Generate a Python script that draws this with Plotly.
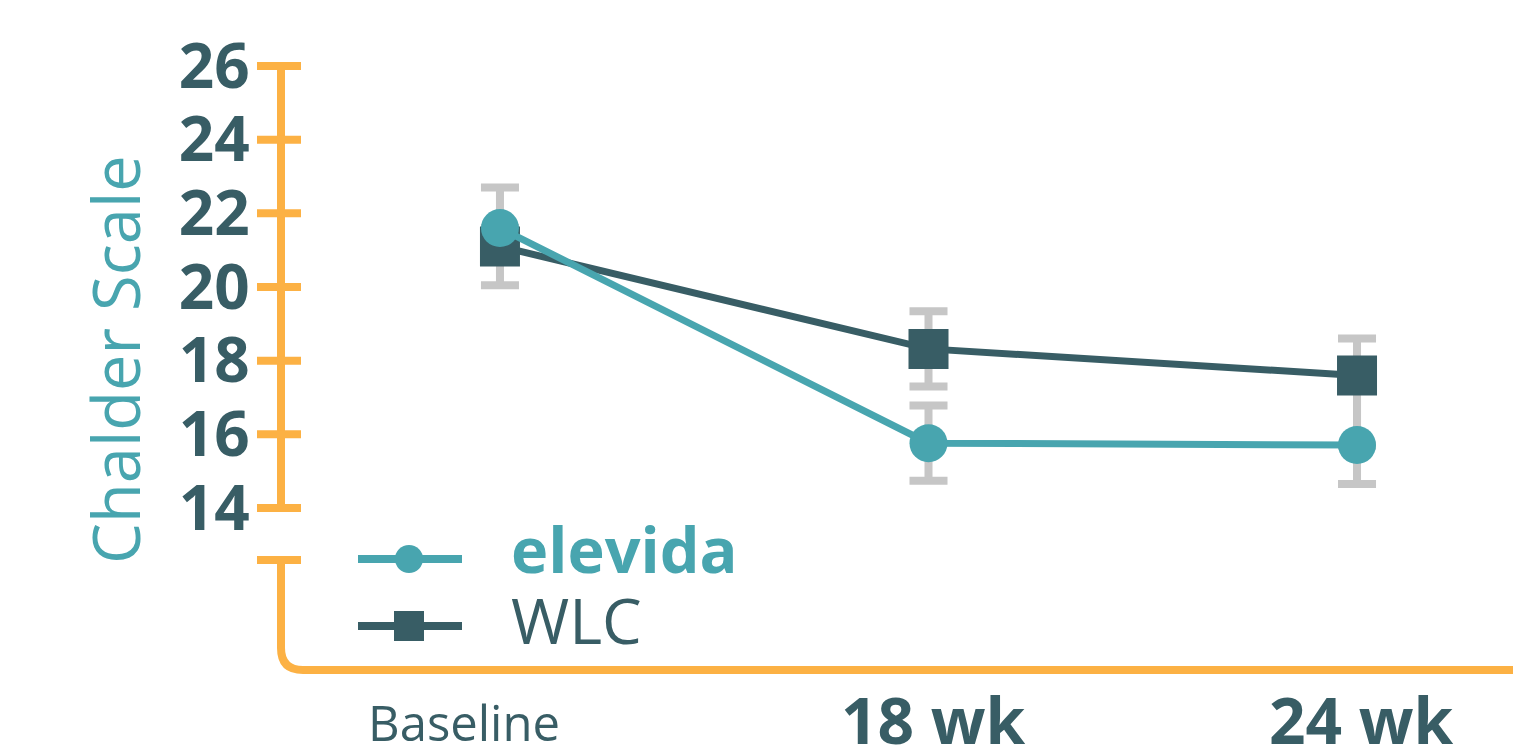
import plotly.graph_objects as go

# ---------------- data ----------------
categories = ["Baseline", "18 wk", "24 wk"]
x_idx = [0, 1, 2]
elevida_vals = [21.6, 15.76, 15.71]
elevida_err_plus = [1.1, 1.02, 1.9]
elevida_err_minus = [0.5, 1.02, 1.06]
wlc_vals = [21.1, 18.32, 17.6]
wlc_err_plus = [0.5, 1.02, 1.0]
wlc_err_minus = [1.05, 1.02, 1.9]
y_ticks = [14, 16, 18, 20, 22, 24, 26]
series_names = ["elevida", "WLC"]

# ---------------- style ----------------
TEAL = "#48a5af"
DARK = "#385d65"
ORANGE = "#fcb144"
GRAY = "#c6c6c6"
FONT = "Open Sans"

W, H = 1513, 754
ML, MB = 281, 84
PW, PH = W - ML, H - MB
Y_RANGE = [9.602, 27.792]
X_RANGE = [-0.511, 2.364]


def px_x(px):
    return (px - ML) / PW


def px_y(py):
    return (PH - py) / PH


fig = go.Figure()

# error bars first (behind everything)
for vals, ep, em in ((wlc_vals, wlc_err_plus, wlc_err_minus),
                     (elevida_vals, elevida_err_plus, elevida_err_minus)):
    fig.add_trace(go.Scatter(
        x=x_idx, y=vals, mode="markers",
        marker=dict(size=1, opacity=0),
        error_y=dict(type="data", symmetric=False, array=ep, arrayminus=em,
                     visible=True, color=GRAY, thickness=8, width=19),
        showlegend=False, hoverinfo="skip", cliponaxis=False))

fig.add_trace(go.Scatter(
    x=x_idx, y=wlc_vals, name=series_names[1], mode="lines+markers",
    line=dict(color=DARK, width=7),
    marker=dict(symbol="square", size=40, color=DARK, opacity=1),
    showlegend=False, cliponaxis=False))
fig.add_trace(go.Scatter(
    x=x_idx, y=elevida_vals, name=series_names[0], mode="lines+markers",
    line=dict(color=TEAL, width=7),
    marker=dict(symbol="circle", size=38, color=TEAL, opacity=1),
    showlegend=False, cliponaxis=False))

# ---------- manual legend (pixel coords on helper axes) ----------
leg_items = [(TEAL, "circle", 28, 559, 548, f"<b>{series_names[0]}</b>"),
             (DARK, "square", 30, 626, 619, series_names[1])]
for col, sym, sz, ly, ty, label in leg_items:
    fig.add_trace(go.Scatter(
        x=[358, 462], y=[ly, ly], mode="lines",
        line=dict(color=col, width=8),
        xaxis="x2", yaxis="y2", showlegend=False, hoverinfo="skip",
        cliponaxis=False))
    fig.add_trace(go.Scatter(
        x=[409], y=[ly], mode="markers",
        marker=dict(symbol=sym, size=sz, color=col, opacity=1),
        xaxis="x2", yaxis="y2", showlegend=False, hoverinfo="skip",
        cliponaxis=False))
    fig.add_annotation(x=509, y=ty, xref="x2", yref="y2", text=label,
                       showarrow=False, xanchor="left", yanchor="middle",
                       font=dict(family=FONT, size=63, color=col))

# ---------- axis decoration ----------
shapes = []
# upper y-axis line
shapes.append(dict(type="line", xref="paper", yref="y", x0=0, x1=0,
                   y0=y_ticks[0], y1=y_ticks[-1],
                   line=dict(color=ORANGE, width=8)))
# ticks (cross the axis line)
for t in y_ticks:
    shapes.append(dict(type="line", xref="paper", yref="y",
                       x0=px_x(257), x1=px_x(301), y0=t, y1=t,
                       line=dict(color=ORANGE, width=8)))
# break tick
shapes.append(dict(type="line", xref="paper", yref="paper",
                   x0=px_x(257), x1=px_x(301), y0=px_y(560), y1=px_y(560),
                   line=dict(color=ORANGE, width=8)))
# lower segment with rounded corner into the x-axis
r = 22
path = (f"M 0,{px_y(560)} L 0,{px_y(PH - r)} "
        f"Q 0,0 {px_x(ML + r)},0 L 1,0")
shapes.append(dict(type="path", xref="paper", yref="paper", path=path,
                   line=dict(color=ORANGE, width=8)))

# ---------- x labels ----------
x_label_style = [
    dict(text=categories[0], size=49, xshift=-36, yshift=-52),
    dict(text=f"<b>{categories[1]}</b>", size=64, xshift=5, yshift=-49),
    dict(text=f"<b>{categories[2]}</b>", size=64, xshift=4, yshift=-49),
]
for xi, st in zip(x_idx, x_label_style):
    fig.add_annotation(x=xi, y=0, xref="x", yref="paper", text=st["text"],
                       showarrow=False, xanchor="center", yanchor="middle",
                       xshift=st["xshift"], yshift=st["yshift"],
                       font=dict(family=FONT, size=st["size"], color=DARK))

# y title
fig.add_annotation(x=px_x(115), y=px_y(360), xref="paper", yref="paper",
                   text="Chalder Scale", textangle=-90, showarrow=False,
                   xanchor="center", yanchor="middle",
                   font=dict(family=FONT, size=65, color=TEAL))

fig.update_layout(
    width=W, height=H,
    margin=dict(l=ML, r=0, t=0, b=MB, autoexpand=False),
    paper_bgcolor="white", plot_bgcolor="white",
    shapes=shapes,
    xaxis=dict(range=X_RANGE, showgrid=False, zeroline=False,
               showline=False, showticklabels=False, ticks=""),
    yaxis=dict(range=Y_RANGE, showgrid=False, zeroline=False,
               showline=False, tickvals=y_ticks,
               ticktext=[f"<b>{t}</b>" for t in y_ticks],
               ticks="outside", ticklen=18, tickwidth=1,
               tickcolor="rgba(0,0,0,0)",
               tickfont=dict(family=FONT, size=62, color=DARK)),
    xaxis2=dict(range=[ML, W], overlaying="x", visible=False,
                fixedrange=True),
    yaxis2=dict(range=[PH, 0], overlaying="y", visible=False,
                fixedrange=True),
    showlegend=False,
)

fig.write_html("out.html")
